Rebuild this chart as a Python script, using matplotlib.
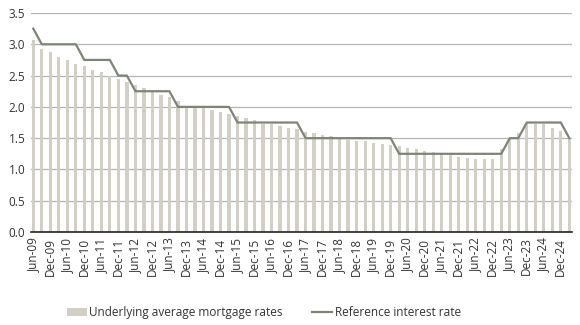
import numpy as np
import pandas as pd
import matplotlib
matplotlib.use("Agg")
import matplotlib.pyplot as plt

plt.rcParams['font.family'] = ['Open Sans', 'DejaVu Sans']

# Quarterly periods Jun-09 .. Mar-25
quarters = pd.period_range("2009Q2", "2025Q1", freq="Q")
labels = [q.strftime("%b-%y") for q in quarters.asfreq("M", how="end")]

mortgage_rates = [
    3.07, 2.93, 2.87, 2.80, 2.75, 2.69, 2.65, 2.59, 2.55, 2.49,
    2.45, 2.40, 2.35, 2.30, 2.25, 2.19, 2.15, 2.09, 2.02, 2.02,
    1.99, 1.95, 1.92, 1.89, 1.85, 1.83, 1.79, 1.73, 1.73, 1.70,
    1.67, 1.64, 1.60, 1.58, 1.55, 1.53, 1.49, 1.47, 1.46, 1.45,
    1.43, 1.41, 1.39, 1.37, 1.35, 1.33, 1.29, 1.28, 1.25, 1.23,
    1.20, 1.19, 1.17, 1.17, 1.17, 1.32, 1.49, 1.58, 1.73, 1.72,
    1.72, 1.67, 1.62, 1.50,
]

reference_rate = (
    [3.25] + [3.0] * 5 + [2.75] * 4 + [2.5] * 2 + [2.25] * 5 + [2.0] * 7
    + [1.75] * 8 + [1.5] * 11 + [1.25] * 13 + [1.5] * 2 + [1.75] * 5 + [1.5]
)

yticks = [0.0, 0.5, 1.0, 1.5, 2.0, 2.5, 3.0, 3.5]

x = np.arange(len(labels))

fig = plt.figure(figsize=(5.8, 3.25), dpi=100)
ax = fig.add_axes([0.053, 0.286, 0.933, 0.674])

bars = ax.bar(x, mortgage_rates, width=0.38, color="#d2d0c6",
              label="Underlying average mortgage rates", zorder=2)
line, = ax.plot(x, reference_rate, color="#7f8479", linewidth=1.6,
                label="Reference interest rate", zorder=3)

ax.set_ylim(0, 3.5)
ax.set_xlim(-0.3, len(labels) - 0.7)
ax.set_yticks(yticks)
ax.set_yticklabels([f"{v:.1f}" for v in yticks], fontsize=8.5, color="#333333")
ax.set_xticks(x[::2])
ax.set_xticklabels(labels[::2], rotation=90, fontsize=8.5, color="#333333")
ax.tick_params(length=0, pad=4)
ax.yaxis.grid(True, color="#b5b5b5", linewidth=0.9, zorder=0)
ax.set_axisbelow(True)
for s in ["top", "right", "left"]:
    ax.spines[s].set_visible(False)
ax.spines["bottom"].set_color("#222222")
ax.spines["bottom"].set_linewidth(1.2)

fig.legend([bars, line], [bars.get_label(), line.get_label()],
           loc="lower center", bbox_to_anchor=(0.455, -0.015), ncol=2, frameon=False,
           fontsize=8.5, handlelength=1.7, handletextpad=0.2, columnspacing=2.5,
           labelcolor="#333333")

fig.savefig("out.png", dpi=100)
